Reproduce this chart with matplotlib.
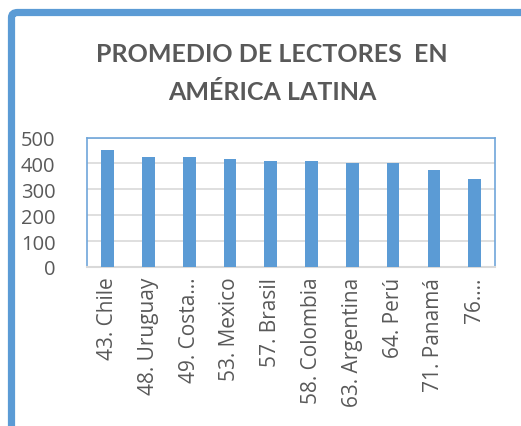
import matplotlib
matplotlib.use("Agg")
import matplotlib.pyplot as plt
from matplotlib.patches import FancyBboxPatch

# Reading scores by country (ranking position in the label)
categories = ["43. Chile", "48. Uruguay", "49. Costa\u2026", "53. Mexico", "57. Brasil",
              "58. Colombia", "63. Argentina", "64. Perú", "71. Panamá", "76.\u2026"]
values = [451, 426, 424, 418, 411, 409, 400, 400, 374, 339]
yticks = [0, 100, 200, 300, 400, 500]

TEXT = "#595959"
BLUE = "#5B9BD5"
GRID = "#D9D9D9"
TICK_FONT = ["Open Sans", "DejaVu Sans"]
TITLE_FONT = ["Lato", "DejaVu Sans"]

W, H = 521, 427
fig = plt.figure(figsize=(W / 100, H / 100), dpi=100)

# Rounded outer frame running off the right and bottom edges
frame = FancyBboxPatch((11.5 / W, -0.2), 1.2, 1.2 - 13.5 / H,
                       boxstyle="round,pad=0,rounding_size=0.012",
                       transform=fig.transFigure, fill=False,
                       edgecolor=BLUE, linewidth=5.2, zorder=0)
fig.patches.append(frame)

ax = fig.add_axes([87.3 / W, (H - 268) / H, (495 - 87.3) / W, (268 - 138.5) / H])
x = list(range(len(categories)))
ax.bar(x, values, width=0.31, color=BLUE, zorder=3)

ax.set_xlim(-0.5, len(categories) - 0.5)
ax.set_ylim(0, 500)
ax.set_yticks(yticks)
ax.set_yticklabels([str(v) for v in yticks], fontsize=14.5, color=TEXT, family=TICK_FONT)
ax.set_xticks(x)
ax.set_xticklabels(categories, rotation=90, fontsize=15, color=TEXT, family=TICK_FONT,
                   ha="center", va="top")
ax.tick_params(axis="both", length=0)
ax.tick_params(axis="y", pad=23)
ax.tick_params(axis="x", pad=7)

ax.yaxis.grid(True, color=GRID, linewidth=1.2, zorder=0)
ax.set_axisbelow(True)
for side in ("left", "top", "right"):
    ax.spines[side].set_color("#6FA6DA")
    ax.spines[side].set_linewidth(1.2)
ax.spines["bottom"].set_color(GRID)
ax.spines["bottom"].set_linewidth(1.5)

fig.text(272 / W, 1 - 55 / H, "PROMEDIO DE LECTORES  EN", ha="center", va="center",
         fontsize=18, fontweight="bold", color=TEXT, family=TITLE_FONT)
fig.text(272 / W, 1 - 92 / H, "AMÉRICA LATINA", ha="center", va="center",
         fontsize=18, fontweight="bold", color=TEXT, family=TITLE_FONT)

fig.savefig("out.png", dpi=100)
